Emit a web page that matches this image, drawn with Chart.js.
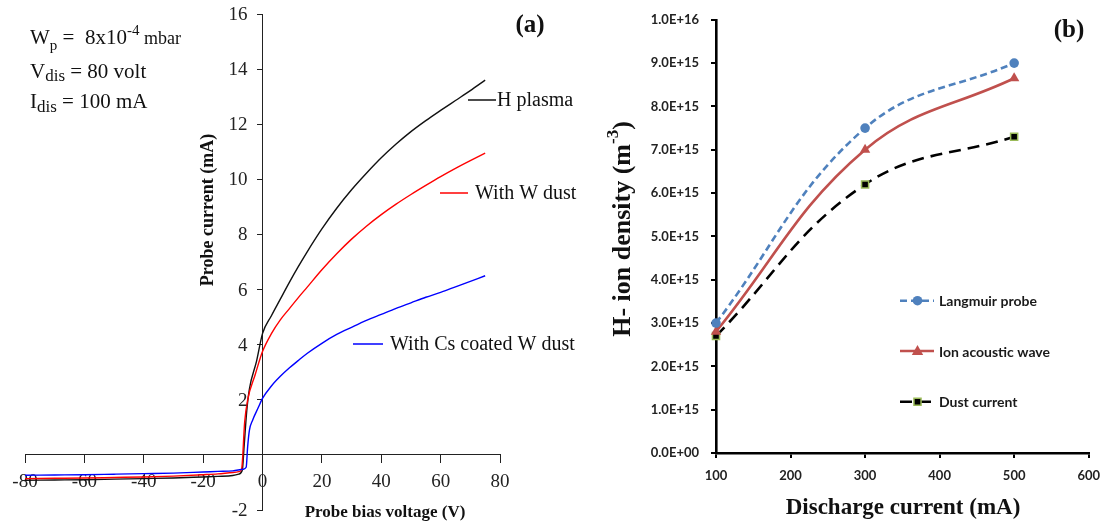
<!DOCTYPE html>
<html>
<head>
<meta charset="utf-8">
<script src="https://cdn.jsdelivr.net/npm/chart.js@4.4.1/dist/chart.umd.min.js"></script>
<style>
  html, body { margin: 0; padding: 0; background: #fff; }
  #wrap { position: relative; width: 1110px; height: 524px; overflow: hidden; }
  #chartA { position: absolute; left: 0; top: 0; }
  #chartB { position: absolute; left: 600px; top: 0; }
</style>
</head>
<body>
<div id="wrap">
  <canvas id="chartA" width="600" height="524"></canvas>
  <canvas id="chartB" width="510" height="524"></canvas>
</div>
<script>
// (a) probe I-V curves : bias voltage (V) / probe current (mA)
const hVolt = [-80, -70, -60, -50, -40, -30, -20, -15, -10, -8, -6.8, -6.2, -5.3, -4.4, -2, 0, 3, 6, 9, 12, 15, 20, 25, 30, 35, 40, 45, 50, 55, 60, 65, 70, 75];
const hCurr = [-0.92, -0.91, -0.9, -0.88, -0.86, -0.84, -0.8, -0.78, -0.75, -0.7, -0.55, 0.3, 1.6, 2.4, 3.4, 4.4, 5.05, 5.65, 6.25, 6.82, 7.36, 8.2, 8.95, 9.62, 10.22, 10.78, 11.28, 11.73, 12.13, 12.5, 12.86, 13.22, 13.6];

const wVolt = [-80, -70, -60, -50, -40, -30, -20, -15, -10, -7.6, -7.0, -6.0, -5.0, -2.5, 0, 3, 6, 9, 12, 15, 20, 25, 30, 35, 40, 45, 50, 55, 60, 65, 70, 75];
const wCurr = [-0.86, -0.85, -0.84, -0.82, -0.8, -0.77, -0.72, -0.69, -0.64, -0.6, -0.5, 1.2, 2.0, 2.9, 3.75, 4.4, 4.9, 5.3, 5.7, 6.08, 6.72, 7.3, 7.83, 8.3, 8.72, 9.1, 9.45, 9.78, 10.1, 10.4, 10.68, 10.95];

const csVolt = [-80, -70, -60, -50, -40, -30, -20, -15, -10, -6.5, -5.5, -5.0, -4.4, -3.3, -1.5, 0, 3, 6, 9, 12, 15, 20, 25, 30, 35, 40, 45, 50, 55, 60, 65, 70, 75];
const csCurr = [-0.74, -0.73, -0.72, -0.7, -0.68, -0.66, -0.62, -0.6, -0.58, -0.52, -0.45, 0.3, 0.9, 1.27, 1.7, 2.05, 2.5, 2.85, 3.15, 3.42, 3.68, 4.05, 4.37, 4.63, 4.88, 5.1, 5.32, 5.52, 5.72, 5.9, 6.1, 6.3, 6.5];

// (b) H- ion density vs discharge current
const dischargeCurrent = [100, 300, 500];
const langmuir = [3.0e15, 7.5e15, 9.0e15];
const ionAcoustic = [2.8e15, 7.0e15, 8.65e15];
const dustCurrent = [2.7e15, 6.2e15, 7.3e15];
const yTickLabels = ["0.0E+00", "1.0E+15", "2.0E+15", "3.0E+15", "4.0E+15", "5.0E+15",
                     "6.0E+15", "7.0E+15", "8.0E+15", "9.0E+15", "1.0E+16"];

const serif = "'Liberation Serif', 'Times New Roman', serif";
const sans = "Lato, 'Liberation Sans', sans-serif";
const toXY = (xs, ys) => xs.map((x, i) => ({ x: x, y: ys[i] }));

// draw text made of pieces (sub/superscripts)
function runWidth(ctx, runs, family) {
  let w = 0;
  runs.forEach(r => {
    ctx.font = (r.b ? "bold " : "") + r.s + "px " + family;
    w += ctx.measureText(r.t).width;
  });
  return w;
}
function drawRuns(ctx, x, y, runs, family) {
  runs.forEach(r => {
    ctx.font = (r.b ? "bold " : "") + r.s + "px " + family;
    ctx.fillText(r.t, x, y + (r.dy || 0));
    x += ctx.measureText(r.t).width;
  });
}

const notesA = {
  id: "notesA",
  afterDraw(chart) {
    const ctx = chart.ctx;
    const sx = chart.scales.x, sy = chart.scales.y;
    ctx.save();

    // y tick labels, left of the crossing axis (Chart.js puts them on the line)
    const x0 = sx.getPixelForValue(0);
    ctx.fillStyle = "#222";
    ctx.font = "19px " + serif;
    ctx.textAlign = "right";
    ctx.textBaseline = "middle";
    sy.ticks.forEach(t => {
      if (t.value !== 0) ctx.fillText(String(t.value), x0 - 15, sy.getPixelForValue(t.value) + 1);
    });

    ctx.fillStyle = "#111";
    ctx.textAlign = "left";
    ctx.textBaseline = "alphabetic";
    drawRuns(ctx, 30, 44, [{ t: "W", s: 21 }, { t: "p", s: 15, dy: 6 }, { t: " =  8x10", s: 21 },
      { t: "-4", s: 15, dy: -9 }, { t: " mbar", s: 18 }], serif);
    drawRuns(ctx, 30, 78, [{ t: "V", s: 21 }, { t: "dis", s: 17, dy: 3 }, { t: " = 80 volt", s: 21 }], serif);
    drawRuns(ctx, 30, 108, [{ t: "I", s: 21 }, { t: "dis", s: 17, dy: 4 }, { t: " = 100 mA", s: 21 }], serif);

    // series labels
    const labels = [
      { x1: 468, x2: 496, y: 100, tx: 497, text: "H plasma", color: "#111" },
      { x1: 440, x2: 468, y: 193, tx: 475, text: "With W dust", color: "#ff0000" },
      { x1: 353, x2: 383, y: 344, tx: 390, text: "With Cs coated W dust", color: "#0000ff" }
    ];
    ctx.textBaseline = "middle";
    ctx.font = "20px " + serif;
    labels.forEach(l => {
      ctx.strokeStyle = l.color;
      ctx.lineWidth = 1.5;
      ctx.beginPath();
      ctx.moveTo(l.x1, l.y);
      ctx.lineTo(l.x2, l.y);
      ctx.stroke();
      ctx.fillStyle = "#111";
      ctx.fillText(l.text, l.tx, l.y + 1);
    });

    ctx.textAlign = "center";
    ctx.font = "bold 25px " + serif;
    ctx.fillText("(a)", 530, 26);

    ctx.font = "bold 17px " + serif;
    ctx.fillText("Probe bias voltage (V)", 385, 513);
    ctx.translate(208, 210);
    ctx.rotate(-Math.PI / 2);
    ctx.font = "bold 18px " + serif;
    ctx.fillText("Probe current (mA)", 0, 0);
    ctx.restore();
  }
};

function drawMarker(ctx, style, x, y, r, fill, stroke, bw) {
  ctx.beginPath();
  if (style === "circle") {
    ctx.arc(x, y, r, 0, Math.PI * 2);
  } else if (style === "triangle") {
    ctx.moveTo(x, y - r);
    ctx.lineTo(x + r * 0.95, y + r * 0.65);
    ctx.lineTo(x - r * 0.95, y + r * 0.65);
    ctx.closePath();
  } else {
    const h = r * Math.SQRT1_2;
    ctx.rect(x - h, y - h, 2 * h, 2 * h);
  }
  ctx.fillStyle = fill;
  ctx.fill();
  if (bw) {
    ctx.lineWidth = bw;
    ctx.strokeStyle = stroke;
    ctx.stroke();
  }
}

const notesB = {
  id: "notesB",
  afterDraw(chart) {
    const ctx = chart.ctx;
    ctx.save();
    // legend
    const rows = [300.7, 351, 401.7];
    chart.data.datasets.forEach((ds, i) => {
      const y = rows[i];
      ctx.save();
      ctx.strokeStyle = ds.borderColor;
      ctx.lineWidth = ds.borderWidth;
      ctx.setLineDash(ds.borderDash || []);
      ctx.beginPath();
      ctx.moveTo(300, y);
      ctx.lineTo(334, y);
      ctx.stroke();
      ctx.restore();
      drawMarker(ctx, ds.pointStyle, 317.5, y, ds.pointRadius, ds.pointBackgroundColor,
        ds.pointBorderColor, ds.pointBorderWidth);
      ctx.fillStyle = "#1a1a1a";
      ctx.font = "bold 14px " + sans;
      ctx.textAlign = "left";
      ctx.textBaseline = "middle";
      ctx.fillText(ds.label, 339, y + 1);
    });

    ctx.fillStyle = "#111";
    ctx.textAlign = "center";
    ctx.textBaseline = "middle";
    ctx.font = "bold 25px " + serif;
    ctx.fillText("(b)", 469, 31);

    ctx.font = "bold 23px " + serif;
    ctx.fillText("Discharge current (mA)", 303, 508);

    const runs = [{ t: "H- ion density (m", s: 26, b: 1 }, { t: "-3", s: 17, b: 1, dy: -9 }, { t: ")", s: 26, b: 1 }];
    ctx.translate(23, 229);
    ctx.rotate(-Math.PI / 2);
    ctx.textAlign = "left";
    const w = runWidth(ctx, runs, serif);
    drawRuns(ctx, -w / 2, 0, runs, serif);
    ctx.restore();
  }
};

new Chart(document.getElementById("chartA"), {
  type: "scatter",
  data: {
    datasets: [
      { label: "With Cs coated W dust", data: toXY(csVolt, csCurr), borderColor: "#0000ff" },
      { label: "With W dust", data: toXY(wVolt, wCurr), borderColor: "#ff0000" },
      { label: "H plasma", data: toXY(hVolt, hCurr), borderColor: "#111111" }
    ].map(d => Object.assign(d, {
      showLine: true, pointRadius: 0, borderWidth: 1.4, cubicInterpolationMode: "monotone", fill: false
    }))
  },
  options: {
    responsive: false,
    animation: false,
    devicePixelRatio: 1,
    layout: { padding: { left: 25, right: 100, top: 14, bottom: 14 } },
    plugins: { legend: { display: false }, tooltip: { enabled: false } },
    scales: {
      x: {
        type: "linear", min: -80, max: 80, position: { y: 0 },
        ticks: { stepSize: 20, autoSkip: false, maxRotation: 0, padding: 8, color: "#222",
          font: { family: serif, size: 19 } },
        grid: { drawOnChartArea: false, tickLength: 8, color: "#222" },
        border: { color: "#222", width: 1 }
      },
      y: {
        type: "linear", min: -2, max: 16, position: { x: 0 },
        ticks: { stepSize: 2, autoSkip: false, display: false },
        grid: { drawOnChartArea: false, tickLength: 5, color: "#222" },
        border: { color: "#222", width: 1 }
      }
    }
  },
  plugins: [notesA]
});

new Chart(document.getElementById("chartB"), {
  type: "line",
  data: {
    datasets: [
      {
        label: "Langmuir probe", data: toXY(dischargeCurrent, langmuir),
        borderColor: "#4F81BD", borderDash: [7, 4], pointStyle: "circle", pointRadius: 4.8,
        pointBackgroundColor: "#4F81BD", pointBorderColor: "#4F81BD", pointBorderWidth: 0
      },
      {
        label: "Ion acoustic wave", data: toXY(dischargeCurrent, ionAcoustic),
        borderColor: "#C0504D", borderDash: [], pointStyle: "triangle", pointRadius: 6,
        pointBackgroundColor: "#C0504D", pointBorderColor: "#C0504D", pointBorderWidth: 0
      },
      {
        label: "Dust current", data: toXY(dischargeCurrent, dustCurrent),
        borderColor: "#000000", borderDash: [12, 7], pointStyle: "rect", pointRadius: 5,
        pointBackgroundColor: "#000000", pointBorderColor: "#9BBB59", pointBorderWidth: 1.5
      }
    ].map(d => Object.assign(d, { borderWidth: 2.6, tension: 0.4, fill: false, clip: false }))
  },
  options: {
    responsive: false,
    animation: false,
    devicePixelRatio: 1,
    layout: { padding: { left: 0, right: 16, top: 17, bottom: 0 } },
    plugins: { legend: { display: false }, tooltip: { enabled: false } },
    scales: {
      x: {
        type: "linear", min: 100, max: 600,
        afterFit: s => { s.height = 71; },
        ticks: { stepSize: 100, autoSkip: false, maxRotation: 0, padding: 10, color: "#222",
          font: { family: sans, size: 13, weight: "bold" } },
        grid: { drawOnChartArea: false, tickLength: 5, color: "#000", lineWidth: 2 },
        border: { color: "#000", width: 2.6 }
      },
      y: {
        type: "linear", min: 0, max: 1e16,
        afterFit: s => { s.width = 116; },
        ticks: { stepSize: 1e15, autoSkip: false, padding: 12, color: "#222",
          font: { family: sans, size: 13, weight: "bold" },
          callback: (v, i) => yTickLabels[i] },
        grid: { drawOnChartArea: false, tickLength: 5, color: "#000", lineWidth: 2 },
        border: { color: "#000", width: 2.6 }
      }
    }
  },
  plugins: [notesB]
});
</script>
</body>
</html>
